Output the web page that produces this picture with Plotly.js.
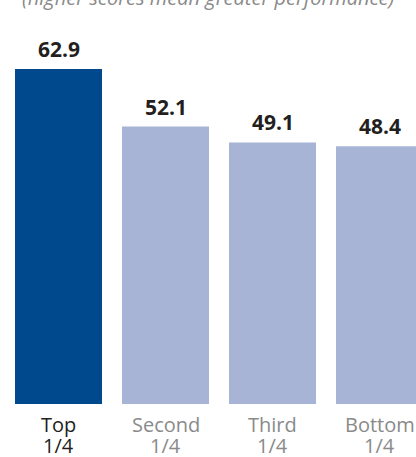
<!DOCTYPE html>
<html>
<head>
<meta charset="utf-8">
<script src="https://cdn.plot.ly/plotly-3.0.1.min.js"></script>
<style>
html,body{margin:0;padding:0;background:#fff;}
#chart{width:416px;height:457px;}
</style>
</head>
<body>
<div id="chart"></div>
<script>
const categories = ["Top 1/4", "Second 1/4", "Third 1/4", "Bottom 1/4"];
const tickLine1 = ["Top", "Second", "Third", "Bottom"];
const tickLine2 = ["1/4", "1/4", "1/4", "1/4"];
const values = [62.9, 52.1, 49.1, 48.4];
const valueLabels = ["62.9", "52.1", "49.1", "48.4"];
const barColors = ["#00498c", "#a8b4d6", "#a8b4d6", "#a8b4d6"];
const tickColors = ["#231f20", "#8a8a8a", "#8a8a8a", "#8a8a8a"];
const subtitle = "(higher scores mean greater performance)";

const FONT = "Open Sans, sans-serif";

const annotations = [];
categories.forEach((c, i) => {
  annotations.push({
    x: c, y: values[i], xref: 'x', yref: 'y',
    text: valueLabels[i], showarrow: false,
    yanchor: 'bottom', yshift: 4,
    font: {family: FONT, size: 21, color: '#231f20', weight: 700}
  });
  annotations.push({
    x: c, y: 0, xref: 'x', yref: 'paper',
    text: tickLine1[i], showarrow: false,
    yanchor: 'top', yshift: -5,
    font: {family: FONT, size: 20, color: tickColors[i]}
  });
  annotations.push({
    x: c, y: 0, xref: 'x', yref: 'paper',
    text: tickLine2[i], showarrow: false,
    yanchor: 'top', yshift: -26,
    font: {family: FONT, size: 20, color: tickColors[i]}
  });
});
annotations.push({
  x: 0.5, y: 1, xref: 'paper', yref: 'paper',
  text: '<i>' + subtitle + '</i>', showarrow: false,
  yanchor: 'bottom', yshift: -13,
  font: {family: FONT, size: 20, color: '#8a8a8a'}
});

const trace = {
  type: 'bar',
  x: categories,
  y: values,
  marker: {color: barColors, line: {width: 0}},
  hoverinfo: 'skip'
};

const layout = {
  width: 416, height: 457,
  margin: {l: 0, r: 0, t: 0, b: 53, pad: 0},
  paper_bgcolor: '#ffffff', plot_bgcolor: '#ffffff',
  bargap: 0.187,
  showlegend: false,
  xaxis: {
    type: 'category',
    range: [-0.5467, 3.341],
    showticklabels: false,
    showgrid: false, zeroline: false, showline: false,
    ticks: ''
  },
  yaxis: {
    range: [0, 75.85],
    visible: false, showgrid: false, zeroline: false
  },
  annotations: annotations
};

Plotly.newPlot('chart', [trace], layout, {displayModeBar: false, staticPlot: true});
</script>
</body>
</html>
